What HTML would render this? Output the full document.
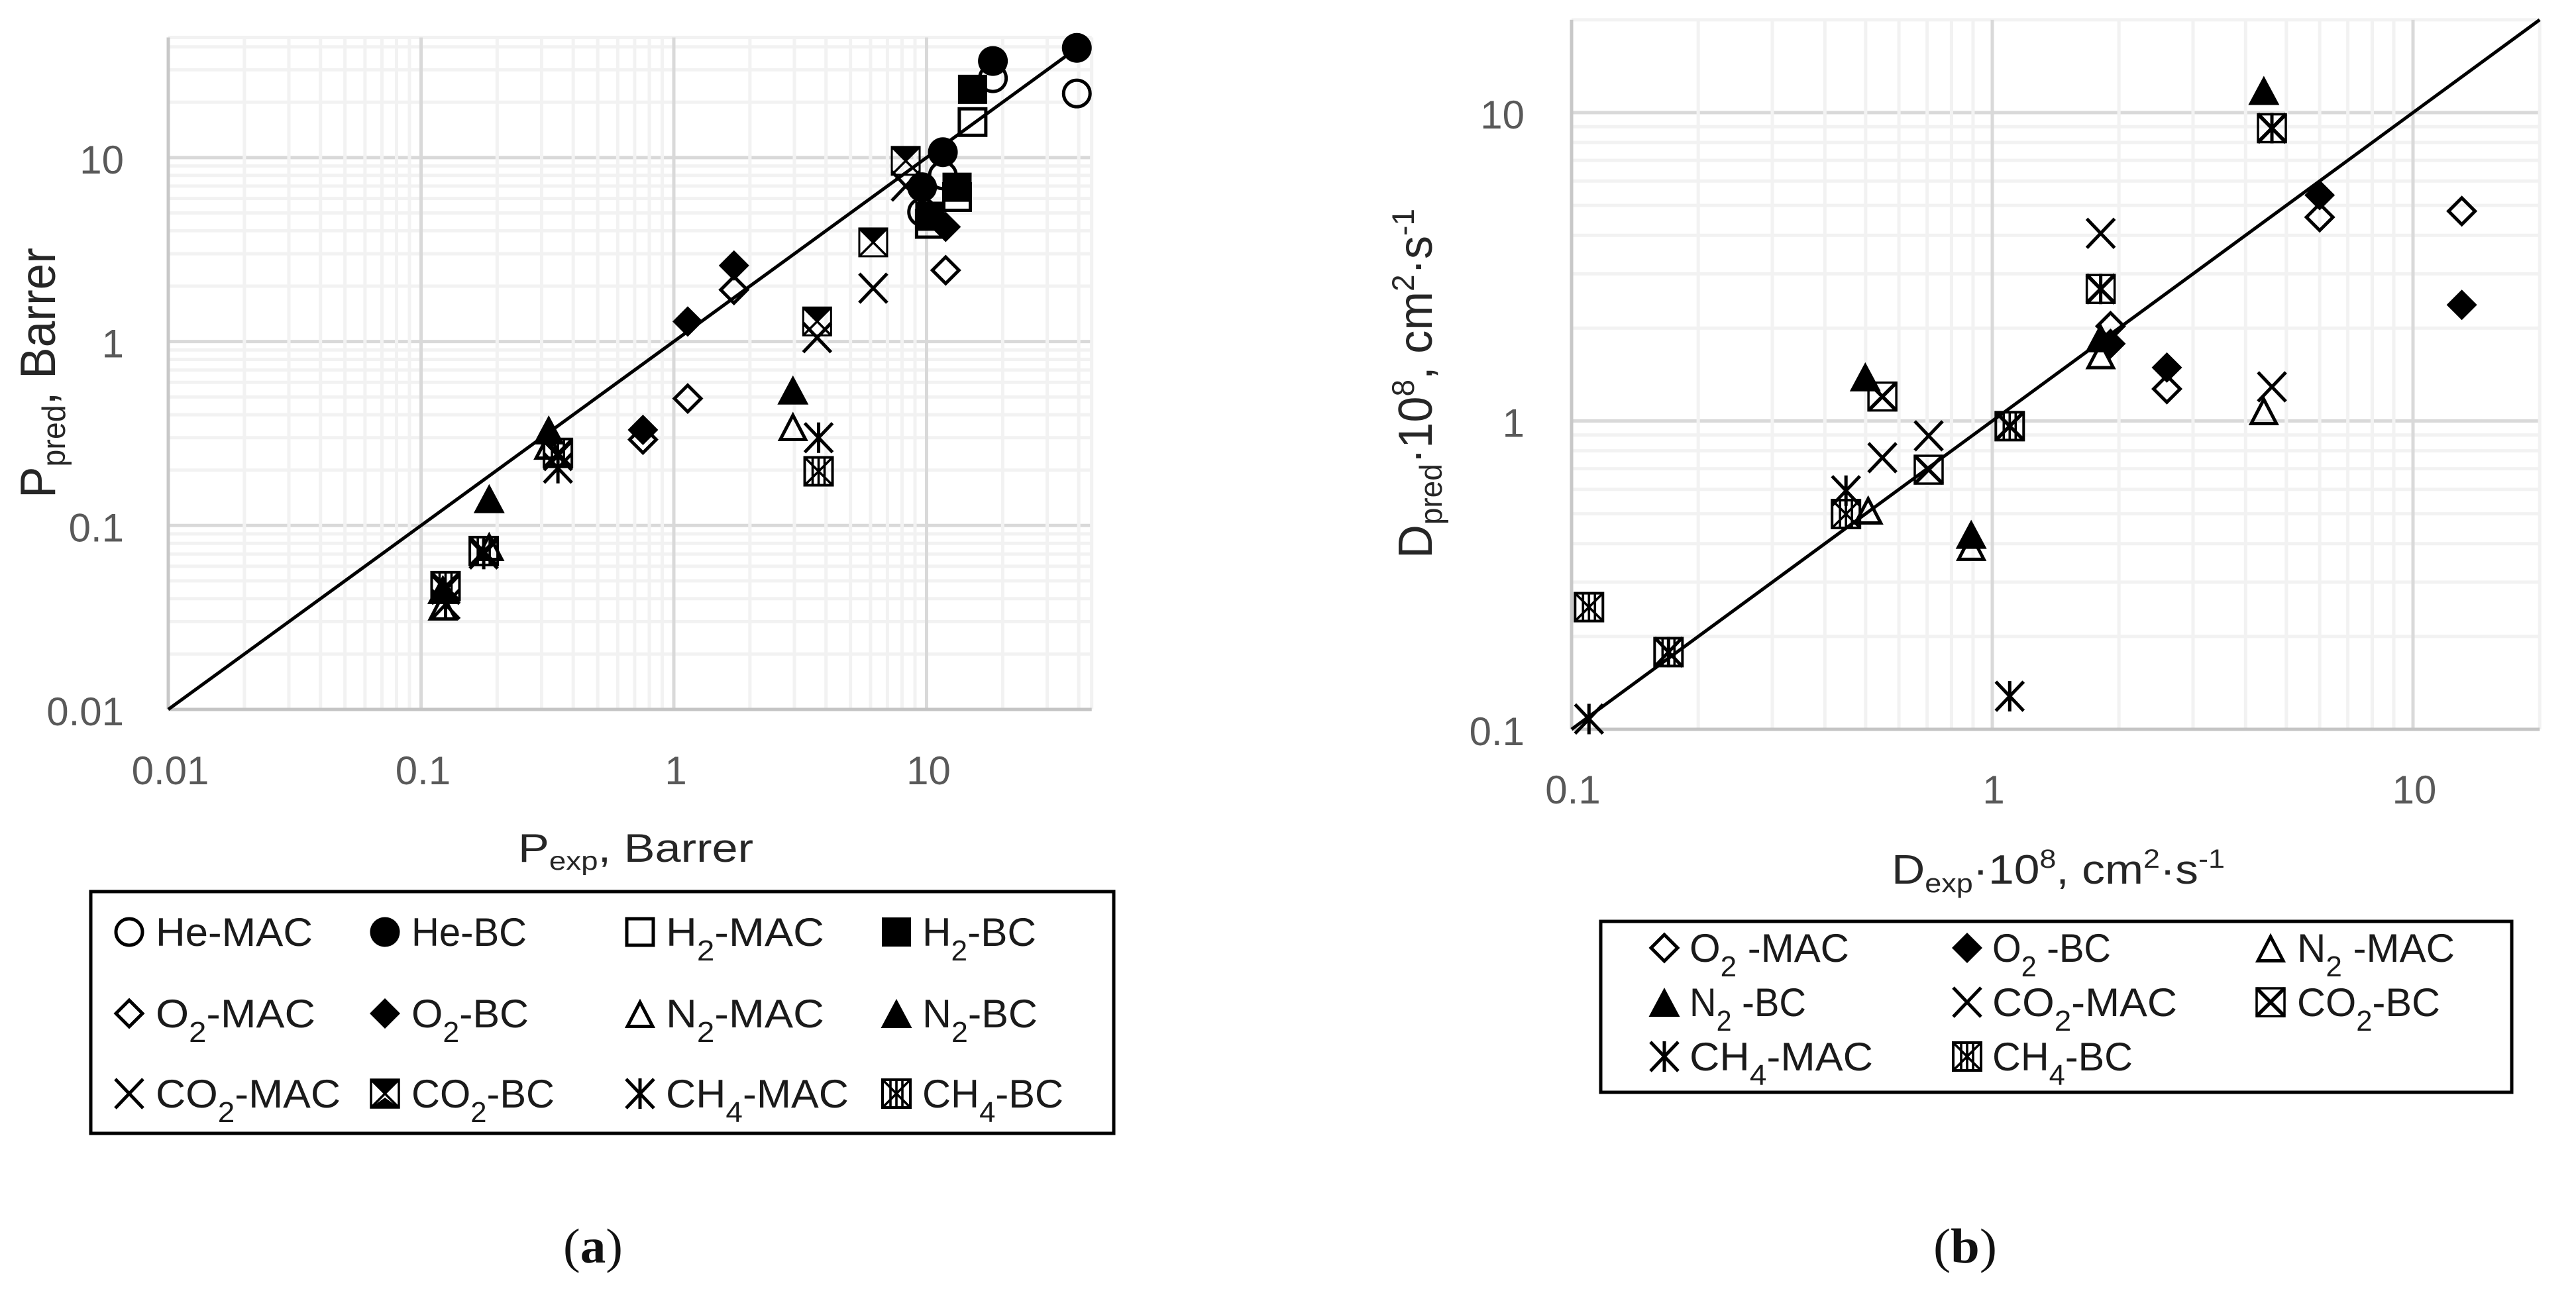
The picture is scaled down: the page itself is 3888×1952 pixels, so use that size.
<!DOCTYPE html>
<html lang="en">
<head>
<meta charset="utf-8">
<title>Predicted vs experimental permeability and diffusivity</title>
<style>
html,body{margin:0;padding:0;background:#fff;width:3888px;height:1952px;overflow:hidden}
svg{display:block}
text{font-family:"Liberation Sans",sans-serif}
.tick{fill:#595959;font-size:60px}
.title{fill:#262626}
.leg{fill:#1a1a1a;font-size:60px}
.cap{font-family:"Liberation Serif",serif;font-size:74px;fill:#111}
</style>
</head>
<body>
<svg id="figure" xmlns="http://www.w3.org/2000/svg" width="3888" height="1952" viewBox="0 0 3888 1952">
<defs>
<g id="m-circle-open"><circle r="20" fill="none" stroke="#000" stroke-width="5"/></g>
<g id="m-circle-fill"><circle r="22.5" fill="#000"/></g>
<g id="m-square-open"><rect x="-20" y="-20" width="40" height="40" fill="none" stroke="#000" stroke-width="5"/></g>
<g id="m-square-fill"><rect x="-22" y="-22" width="44" height="44" fill="#000"/></g>
<g id="m-diamond-open"><path d="M0 -20 L20 0 L0 20 L-20 0 Z" fill="none" stroke="#000" stroke-width="5"/></g>
<g id="m-diamond-fill"><path d="M0 -23 L23 0 L0 23 L-23 0 Z" fill="#000"/></g>
<g id="m-triangle-open"><path d="M0 -17 L19 19.5 L-19 19.5 Z" fill="none" stroke="#000" stroke-width="5"/></g>
<g id="m-triangle-fill"><path d="M0 -22 L23.5 22 L-23.5 22 Z" fill="#000"/></g>
<g id="m-x"><path d="M-21 -22 L21 22 M21 -22 L-21 22" fill="none" stroke="#000" stroke-width="5"/></g>
<g id="m-star"><path d="M-21 -22 L21 22 M21 -22 L-21 22 M0 -23 L0 23" fill="none" stroke="#000" stroke-width="5"/></g>
<g id="m-co2-top"><rect x="-21" y="-21" width="42" height="42" fill="none" stroke="#000" stroke-width="3"/><path d="M-21 -21 L21 -21 L0 2 Z" fill="#000"/><path d="M-21 -21 L21 21 M21 -21 L-21 21" fill="none" stroke="#000" stroke-width="3.5"/></g>
<g id="m-co2-thin"><rect x="-21" y="-21" width="42" height="42" fill="none" stroke="#000" stroke-width="3"/><path d="M-21 -21 L21 21 M21 -21 L-21 21" fill="none" stroke="#000" stroke-width="3.5"/></g>
<g id="m-co2-hour"><rect x="-21" y="-21" width="42" height="42" fill="none" stroke="#000" stroke-width="3.5"/><path d="M-21 -21 L21 -21 L0 0 Z M-21 21 L21 21 L0 6 Z" fill="#000"/><path d="M-21 -21 L21 21 M21 -21 L-21 21" fill="none" stroke="#000" stroke-width="3.5"/></g>
<g id="m-co2-x"><rect x="-21" y="-21" width="42" height="42" fill="none" stroke="#000" stroke-width="3.5"/><path d="M-21 -21 L21 21 M21 -21 L-21 21" fill="none" stroke="#000" stroke-width="5.5"/></g>
<g id="m-ch4-box"><rect x="-21" y="-21" width="42" height="42" fill="none" stroke="#000" stroke-width="4"/><path d="M-21 -21 L21 21 M21 -21 L-21 21 M-9 -21 L-9 21 M0 -21 L0 21 M9 -21 L9 21" fill="none" stroke="#000" stroke-width="3.6"/></g>
</defs>

<g id="panel-a"></g>
<g id="panel-b"></g>

<!-- axis titles -->
<text class="title" transform="translate(83,752) rotate(-90)" font-size="75" textLength="378" lengthAdjust="spacingAndGlyphs">P<tspan font-size="49" dy="15">pred</tspan><tspan dy="-15">, Barrer</tspan></text>
<text class="title" x="782" y="1301" font-size="60" textLength="355" lengthAdjust="spacingAndGlyphs">P<tspan font-size="39" dy="12">exp</tspan><tspan dy="-12">, Barrer</tspan></text>
<text class="title" transform="translate(2161,843) rotate(-90)" font-size="72" textLength="528" lengthAdjust="spacingAndGlyphs">D<tspan font-size="47" dy="15">pred</tspan><tspan dy="-15">·10</tspan><tspan font-size="47" dy="-27">8</tspan><tspan dy="27">, cm</tspan><tspan font-size="47" dy="-27">2</tspan><tspan dy="27">·s</tspan><tspan font-size="47" dy="-27">-1</tspan></text>
<text class="title" x="2855" y="1334" font-size="62" textLength="503" lengthAdjust="spacingAndGlyphs">D<tspan font-size="40" dy="13">exp</tspan><tspan dy="-13">·10</tspan><tspan font-size="40" dy="-24">8</tspan><tspan dy="24">, cm</tspan><tspan font-size="40" dy="-24">2</tspan><tspan dy="24">·s</tspan><tspan font-size="40" dy="-24">-1</tspan></text>

<!-- legend a -->
<g>
<rect x="137" y="1346" width="1544" height="365" fill="#fff" stroke="#000" stroke-width="5"/>
<g><use href="#m-circle-open" x="195" y="1407"/><text class="leg" x="235" y="1428" textLength="237" lengthAdjust="spacingAndGlyphs">He-MAC</text></g>
<g><use href="#m-circle-fill" x="581" y="1407"/><text class="leg" x="621" y="1428" textLength="174" lengthAdjust="spacingAndGlyphs">He-BC</text></g>
<g><use href="#m-square-open" x="966" y="1407"/><text class="leg" x="1005" y="1428" textLength="239" lengthAdjust="spacingAndGlyphs">H<tspan font-size="44" dy="22">2</tspan><tspan dy="-22">-MAC</tspan></text></g>
<g><use href="#m-square-fill" x="1353" y="1407"/><text class="leg" x="1392" y="1428" textLength="172" lengthAdjust="spacingAndGlyphs">H<tspan font-size="44" dy="22">2</tspan><tspan dy="-22">-BC</tspan></text></g>
<g><use href="#m-diamond-open" x="195" y="1530"/><text class="leg" x="235" y="1551" textLength="241" lengthAdjust="spacingAndGlyphs">O<tspan font-size="44" dy="22">2</tspan><tspan dy="-22">-MAC</tspan></text></g>
<g><use href="#m-diamond-fill" x="581" y="1530"/><text class="leg" x="621" y="1551" textLength="177" lengthAdjust="spacingAndGlyphs">O<tspan font-size="44" dy="22">2</tspan><tspan dy="-22">-BC</tspan></text></g>
<g><use href="#m-triangle-open" x="966" y="1530"/><text class="leg" x="1005" y="1551" textLength="239" lengthAdjust="spacingAndGlyphs">N<tspan font-size="44" dy="22">2</tspan><tspan dy="-22">-MAC</tspan></text></g>
<g><use href="#m-triangle-fill" x="1353" y="1530"/><text class="leg" x="1392" y="1551" textLength="174" lengthAdjust="spacingAndGlyphs">N<tspan font-size="44" dy="22">2</tspan><tspan dy="-22">-BC</tspan></text></g>
<g><use href="#m-x" x="195" y="1651"/><text class="leg" x="235" y="1672" textLength="279" lengthAdjust="spacingAndGlyphs">CO<tspan font-size="44" dy="22">2</tspan><tspan dy="-22">-MAC</tspan></text></g>
<g><use href="#m-co2-hour" x="581" y="1651"/><text class="leg" x="621" y="1672" textLength="216" lengthAdjust="spacingAndGlyphs">CO<tspan font-size="44" dy="22">2</tspan><tspan dy="-22">-BC</tspan></text></g>
<g><use href="#m-star" x="966" y="1651"/><text class="leg" x="1005" y="1672" textLength="276" lengthAdjust="spacingAndGlyphs">CH<tspan font-size="44" dy="22">4</tspan><tspan dy="-22">-MAC</tspan></text></g>
<g><use href="#m-ch4-box" x="1353" y="1651"/><text class="leg" x="1392" y="1672" textLength="213" lengthAdjust="spacingAndGlyphs">CH<tspan font-size="44" dy="22">4</tspan><tspan dy="-22">-BC</tspan></text></g>
</g>

<!-- legend b -->
<g>
<rect x="2416" y="1391" width="1375" height="258" fill="#fff" stroke="#000" stroke-width="5"/>
<g><use href="#m-diamond-open" x="2512" y="1431"/><text class="leg" x="2550" y="1452" textLength="241" lengthAdjust="spacingAndGlyphs">O<tspan font-size="44" dy="22">2</tspan><tspan dy="-22"> -MAC</tspan></text></g>
<g><use href="#m-diamond-fill" x="2969" y="1431"/><text class="leg" x="3007" y="1452" textLength="179" lengthAdjust="spacingAndGlyphs">O<tspan font-size="44" dy="22">2</tspan><tspan dy="-22"> -BC</tspan></text></g>
<g><use href="#m-triangle-open" x="3427" y="1431"/><text class="leg" x="3467" y="1452" textLength="238" lengthAdjust="spacingAndGlyphs">N<tspan font-size="44" dy="22">2</tspan><tspan dy="-22"> -MAC</tspan></text></g>
<g><use href="#m-triangle-fill" x="2512" y="1513"/><text class="leg" x="2550" y="1534" textLength="176" lengthAdjust="spacingAndGlyphs">N<tspan font-size="44" dy="22">2</tspan><tspan dy="-22"> -BC</tspan></text></g>
<g><use href="#m-x" x="2969" y="1513"/><text class="leg" x="3007" y="1534" textLength="279" lengthAdjust="spacingAndGlyphs">CO<tspan font-size="44" dy="22">2</tspan><tspan dy="-22">-MAC</tspan></text></g>
<g><use href="#m-co2-x" x="3427" y="1513"/><text class="leg" x="3467" y="1534" textLength="216" lengthAdjust="spacingAndGlyphs">CO<tspan font-size="44" dy="22">2</tspan><tspan dy="-22">-BC</tspan></text></g>
<g><use href="#m-star" x="2512" y="1595"/><text class="leg" x="2550" y="1616" textLength="277" lengthAdjust="spacingAndGlyphs">CH<tspan font-size="44" dy="22">4</tspan><tspan dy="-22">-MAC</tspan></text></g>
<g><use href="#m-ch4-box" x="2969" y="1595"/><text class="leg" x="3007" y="1616" textLength="212" lengthAdjust="spacingAndGlyphs">CH<tspan font-size="44" dy="22">4</tspan><tspan dy="-22">-BC</tspan></text></g>
</g>

<text class="cap" x="850" y="1906" textLength="90" lengthAdjust="spacingAndGlyphs">(<tspan font-weight="bold">a</tspan>)</text>
<text class="cap" x="2918" y="1906" textLength="96" lengthAdjust="spacingAndGlyphs">(<tspan font-weight="bold">b</tspan>)</text>

<script>
// ---- Panel (a) permeability data, Barrer ----
const aTicks = [0.01, 0.1, 1, 10];
const aTickLabels = ['0.01', '0.1', '1', '10'];
const aHeExp = [39.3, 18.3, 11.6, 9.6];
const aHeMac = [22.3, 27, 8, 5.06];
const aHeBc = [39.5, 33.5, 10.7, 6.9];
const aH2Exp = [15.2, 13.2, 10.3];
const aH2Mac = [15.6, 6.1, 4.36];
const aH2Bc = [23.5, 6.9, 4.8];
const aO2Exp = [11.9, 1.73, 1.135, 0.755];
const aO2Mac = [2.44, 1.91, 0.49, 0.293];
const aO2Bc = [4.2, 2.59, 1.285, 0.331];
const aN2MacExp = [2.96, 0.32, 0.186, 0.122];
const aN2Mac = [0.345, 0.273, 0.0769, 0.0365];
const aN2BcExp = [2.96, 0.32, 0.186, 0.122];
const aN2Bc = [0.545, 0.331, 0.14, 0.0449];
const aCo2Exp = [8.27, 6.15, 3.69, 0.348, 0.177, 0.125];
const aCo2Mac = [7.0, 1.95, 1.05, 0.24, 0.072, 0.045];
const aCo2BcHighExp = [8.27, 6.15, 3.69];
const aCo2BcHigh = [9.6, 3.46, 1.286];
const aCo2BcLowExp = [0.348, 0.177, 0.125];
const aCo2BcLow = [0.248, 0.0726, 0.0468];
const aCh4Exp = [3.74, 0.348, 0.177, 0.125];
const aCh4Mac = [0.3, 0.205, 0.07, 0.0372];
const aCh4Bc = [0.197, 0.248, 0.0726, 0.0468];
const aParityLine = [0.01, 40];

// ---- Panel (b) diffusivity data, 10^8 cm2/s ----
const bTicks = [0.1, 1, 10];
const bTickLabels = ['0.1', '1', '10'];
const bO2Exp = [13.06, 6.0, 2.6, 1.91];
const bO2Mac = [4.79, 4.58, 1.27, 2.03];
const bO2Bc = [2.38, 5.4, 1.49, 1.78];
const bN2MacExp = [4.42, 1.81, 0.891, 0.507];
const bN2Mac = [1.08, 1.64, 0.392, 0.514];
const bN2BcExp = [4.42, 1.81, 0.891, 0.499];
const bN2Bc = [11.8, 1.86, 0.429, 1.39];
const bCo2MacExp = [4.62, 1.81, 0.706, 0.548];
const bCo2Mac = [1.29, 4.06, 0.895, 0.76];
const bCo2BcExp = [4.62, 1.81, 1.1, 0.706, 0.548];
const bCo2Bc = [8.9, 2.68, 0.962, 0.695, 1.2];
const bCh4MacExp = [4.62, 1.81, 1.1, 0.449, 0.17, 0.11];
const bCh4Mac = [8.9, 2.68, 0.128, 0.594, 0.178, 0.108];
const bCh4BcExp = [1.1, 0.449, 0.17, 0.11];
const bCh4Bc = [0.962, 0.499, 0.178, 0.249];
const bParityLine = [0.1, 20];

const NS = 'http://www.w3.org/2000/svg';

function makeAxis(origin, decade, minValue, direction) {
  return function (v) {
    return origin + direction * (Math.log10(v) - Math.log10(minValue)) * decade;
  };
}

function addLine(parent, x1, y1, x2, y2, color, width, name) {
  const el = document.createElementNS(NS, 'line');
  el.setAttribute('x1', x1);
  el.setAttribute('y1', y1);
  el.setAttribute('x2', x2);
  el.setAttribute('y2', y2);
  el.setAttribute('stroke', color);
  el.setAttribute('stroke-width', width);
  
  
  parent.appendChild(el);
  return el;
}

function addTick(parent, x, y, anchor, label, name) {
  const el = document.createElementNS(NS, 'text');
  el.setAttribute('x', x);
  el.setAttribute('y', y);
  el.setAttribute('class', 'tick');
  el.setAttribute('text-anchor', anchor);
  
  
  el.textContent = label;
  parent.appendChild(el);
}

function gridValues(minValue, maxValue) {
  const minor = [];
  const major = [];
  for (let k = Math.round(Math.log10(minValue)); k <= Math.ceil(Math.log10(maxValue)); k++) {
    for (let m = 1; m <= 9; m++) {
      const v = m * Math.pow(10, k);
      if (v >= maxValue * 0.999) continue;
      if (m === 1) major.push(v); else minor.push(v);
    }
  }
  minor.push(maxValue);
  return { minor: minor, major: major };
}

function drawFrame(parent, sx, sy, minV, maxV, ticks, labels, opt) {
  const left = sx(minV), right = sx(maxV), bottom = sy(minV), top = sy(maxV);
  const g = gridValues(minV, maxV);
  g.minor.forEach(function (v) { addLine(parent, left, sy(v), right, sy(v), '#f2f2f2', 5, 'minor-gridline-h'); });
  g.major.forEach(function (v) { addLine(parent, left, sy(v), right, sy(v), '#d9d9d9', 5, 'major-gridline-h'); });
  g.minor.forEach(function (v) { addLine(parent, sx(v), top, sx(v), bottom, '#f2f2f2', 5, 'minor-gridline-v'); });
  g.major.forEach(function (v) { addLine(parent, sx(v), top, sx(v), bottom, '#d9d9d9', 5, 'major-gridline-v'); });
  addLine(parent, left, top, left, bottom, '#c8c8c8', 5, 'y-axis-line');
  addLine(parent, left, bottom, right, bottom, '#c4c4c4', 5, 'x-axis-line');
  ticks.forEach(function (v, i) {
    addTick(parent, sx(v) + opt.xTickShift, opt.xTickY, 'middle', labels[i], 'x-tick-label');
    addTick(parent, opt.yTickX, sy(v) + 24, 'end', labels[i], 'y-tick-label');
  });
}

function drawParity(parent, sx, sy, ends) {
  addLine(parent, sx(ends[0]), sy(ends[0]), sx(ends[1]), sy(ends[1]), '#000', 5, 'parity-line');
}

function drawSeries(parent, sx, sy, kind, xs, ys, name) {
  const g = document.createElementNS(NS, 'g');
  
  
  xs.forEach(function (xv, i) {
    const el = document.createElementNS(NS, 'use');
    el.setAttribute('href', '#m-' + kind);
    el.setAttribute('x', sx(xv));
    el.setAttribute('y', sy(ys[i]));
    
    
    g.appendChild(el);
  });
  parent.appendChild(g);
}

// Panel (a)
const panelA = document.getElementById('panel-a');
const ax = makeAxis(254, 381.5, 0.01, 1);
const ay = makeAxis(1071, 277.7, 0.01, -1);
drawFrame(panelA, ax, ay, 0.01, 45, aTicks, aTickLabels, { xTickShift: 3, xTickY: 1184, yTickX: 187 });
drawParity(panelA, ax, ay, aParityLine);
drawSeries(panelA, ax, ay, 'circle-open', aHeExp, aHeMac, 'he-mac');
drawSeries(panelA, ax, ay, 'circle-fill', aHeExp, aHeBc, 'he-bc');
drawSeries(panelA, ax, ay, 'square-open', aH2Exp, aH2Mac, 'h2-mac');
drawSeries(panelA, ax, ay, 'square-fill', aH2Exp, aH2Bc, 'h2-bc');
drawSeries(panelA, ax, ay, 'diamond-open', aO2Exp, aO2Mac, 'o2-mac');
drawSeries(panelA, ax, ay, 'diamond-fill', aO2Exp, aO2Bc, 'o2-bc');
drawSeries(panelA, ax, ay, 'triangle-open', aN2MacExp, aN2Mac, 'n2-mac');
drawSeries(panelA, ax, ay, 'triangle-fill', aN2BcExp, aN2Bc, 'n2-bc');
drawSeries(panelA, ax, ay, 'x', aCo2Exp, aCo2Mac, 'co2-mac');
drawSeries(panelA, ax, ay, 'co2-top', aCo2BcHighExp, aCo2BcHigh, 'co2-bc');
drawSeries(panelA, ax, ay, 'co2-thin', aCo2BcLowExp, aCo2BcLow, 'co2-bc');
drawSeries(panelA, ax, ay, 'star', aCh4Exp, aCh4Mac, 'ch4-mac');
drawSeries(panelA, ax, ay, 'ch4-box', aCh4Exp, aCh4Bc, 'ch4-bc');

// Panel (b)
const panelB = document.getElementById('panel-b');
const bx = makeAxis(2372, 635, 0.1, 1);
const by = makeAxis(1101, 465.5, 0.1, -1);
drawFrame(panelB, bx, by, 0.1, 20, bTicks, bTickLabels, { xTickShift: 2, xTickY: 1213, yTickX: 2301 });
drawParity(panelB, bx, by, bParityLine);
drawSeries(panelB, bx, by, 'diamond-open', bO2Exp, bO2Mac, 'o2-mac');
drawSeries(panelB, bx, by, 'diamond-fill', bO2Exp, bO2Bc, 'o2-bc');
drawSeries(panelB, bx, by, 'triangle-open', bN2MacExp, bN2Mac, 'n2-mac');
drawSeries(panelB, bx, by, 'triangle-fill', bN2BcExp, bN2Bc, 'n2-bc');
drawSeries(panelB, bx, by, 'x', bCo2MacExp, bCo2Mac, 'co2-mac');
drawSeries(panelB, bx, by, 'co2-x', bCo2BcExp, bCo2Bc, 'co2-bc');
drawSeries(panelB, bx, by, 'star', bCh4MacExp, bCh4Mac, 'ch4-mac');
drawSeries(panelB, bx, by, 'ch4-box', bCh4BcExp, bCh4Bc, 'ch4-bc');
</script>
</svg>
</body>
</html>
